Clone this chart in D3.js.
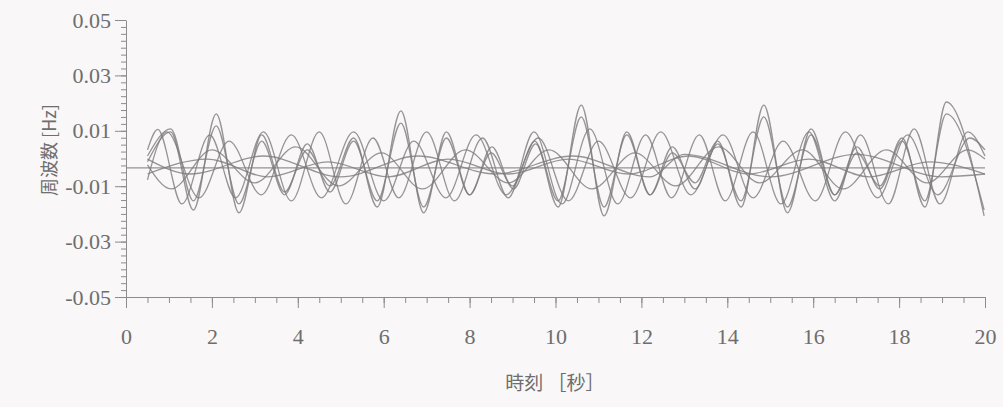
<!DOCTYPE html>
<html>
<head>
<meta charset="utf-8">
<script src="https://cdn.jsdelivr.net/npm/d3@7"></script>
<style>
  body { margin: 0; background: #f9f7f7; }
  svg { display: block; }
</style>
</head>
<body>
<script>
// tick labels
const xTicks = [0, 2, 4, 6, 8, 10, 12, 14, 16, 18, 20];
const yTicks = [-0.05, -0.03, -0.01, 0.01, 0.03, 0.05];

// series: [time (s), frequency (Hz)] at turning points
const flat = [[0, -0.0034], [20, -0.0034]];
const s1 = [[0.5,-0.0012],[1.04,0.0096],[1.57,-0.0186],[2.1,0.0161],[2.63,-0.0196],[3.16,0.0085],[3.69,-0.0121],[4.22,0.0031],[4.75,-0.0099],[5.3,0.0074],[5.85,-0.0175],[6.4,0.0172],[6.93,-0.0196],[7.46,0.0096],[8.0,-0.0131],[8.5,0.002],[9.0,-0.0099],[9.52,0.0063],[10.06,-0.0175],[10.6,0.0193],[11.13,-0.0207],[11.66,0.0096],[12.2,-0.0131],[12.72,0.002],[13.25,-0.0088],[13.78,0.0063],[14.32,-0.0175],[14.85,0.0193],[15.4,-0.0196],[15.95,0.0107],[16.5,-0.0131],[17.02,0.002],[17.55,-0.0099],[18.07,0.0074],[18.6,-0.0175],[19.1,0.0204],[19.98,-0.0207]];
const s2 = [[0.5,0.0009],[1.04,0.0107],[1.57,-0.0153],[2.1,0.0118],[2.63,-0.0164],[3.16,0.0063],[3.69,-0.0131],[4.22,0.0053],[4.75,-0.0121],[5.3,0.0063],[5.85,-0.0153],[6.4,0.0128],[6.93,-0.0175],[7.46,0.0074],[8.0,-0.0131],[8.52,0.0042],[9.02,-0.011],[9.54,0.0053],[10.06,-0.0153],[10.6,0.015],[11.13,-0.0175],[11.66,0.0085],[12.2,-0.0131],[12.72,0.0042],[13.25,-0.011],[13.78,0.0053],[14.32,-0.0153],[14.85,0.015],[15.4,-0.0175],[15.95,0.0085],[16.5,-0.0131],[17.02,0.0042],[17.55,-0.011],[18.07,0.0063],[18.6,-0.0153],[19.1,0.0161],[19.98,-0.0186]];
const s3 = [[0.5,0.0031],[0.74,0.0105],[1.3,-0.0164],[1.95,0.0085],[2.55,-0.0142],[3.2,0.0096],[3.85,-0.0153],[4.5,0.0096],[5.12,-0.0164],[5.75,0.0074],[6.35,-0.0142],[7.0,0.0096],[7.65,-0.0153],[8.3,0.0074],[8.9,-0.0142],[9.5,0.0096],[10.15,-0.0164],[10.8,0.0107],[11.45,-0.0164],[12.1,0.0085],[12.7,-0.0142],[13.35,0.0085],[13.95,-0.0153],[14.6,0.0096],[15.25,-0.0164],[15.9,0.0096],[16.5,-0.0153],[17.1,0.0085],[17.75,-0.0164],[18.35,0.0107],[18.95,-0.0164],[19.6,0.0096],[20,0.0009]];
const s4 = [[0.5,-0.0077],[0.95,0.0096],[1.7,-0.0142],[2.4,0.0063],[3.15,-0.0131],[3.85,0.0085],[4.55,-0.0142],[5.3,0.0096],[6.0,-0.0153],[6.7,0.0063],[7.45,-0.0142],[8.15,0.0085],[8.85,-0.0131],[9.6,0.0074],[10.3,-0.0153],[11.0,0.0063],[11.75,-0.0142],[12.45,0.0096],[13.15,-0.0131],[13.9,0.0085],[14.6,-0.0142],[15.3,0.0063],[16.05,-0.0153],[16.75,0.0096],[17.5,-0.0142],[18.2,0.0085],[18.9,-0.0131],[19.65,0.0074],[20,0.0031]];
const s5 = [[0.5,-0.0023],[1.05,-0.011],[2.0,0.0031],[3.0,-0.0088],[3.95,0.0042],[4.95,-0.0099],[5.95,0.002],[6.9,-0.011],[7.9,0.0031],[8.9,-0.0088],[9.85,0.0031],[10.85,-0.011],[11.85,0.002],[12.8,-0.0099],[13.8,0.0042],[14.75,-0.0088],[15.75,0.0031],[16.7,-0.011],[17.7,0.0031],[18.65,-0.0088],[19.6,0.0031],[20,-0.0002]];
const s6 = [[0.5,-0.0002],[1.5,-0.0056],[3.2,0.0009],[5.0,-0.0066],[6.8,0.0009],[8.6,-0.0056],[10.4,0.0009],[12.2,-0.0066],[13.0,0.0015],[15.0,-0.0066],[17.0,0.0015],[19.0,-0.0066],[20,-0.0056]];
const s7 = [[0.5,-0.0056],[1.9,-0.0002],[3.3,-0.0066],[4.7,-0.0012],[6.1,-0.0066],[7.5,-0.0002],[8.9,-0.0056],[10.3,-0.0002],[11.7,-0.0056],[13.1,0.0009],[14.5,-0.0056],[15.9,-0.0002],[17.3,-0.0066],[18.7,-0.0012],[20,-0.0056]];

const series = [flat, s1, s2, s3, s4, s5, s6, s7];

const width = 1003, height = 407;
const svg = d3.select('body').append('svg')
  .attr('width', width)
  .attr('height', height);

const x = d3.scaleLinear().domain([0, 20]).range([126, 985]);
const y = d3.scaleLinear().domain([-0.05, 0.05]).range([297, 20]);

const serif = '"Liberation Serif", "DejaVu Serif", serif';
const cjk = '"Noto Sans CJK JP", sans-serif';

// minor ticks
svg.append('g')
  .attr('transform', `translate(0,${y(-0.05)})`)
  .call(d3.axisBottom(x).tickValues(d3.range(0, 20.01, 0.5)).tickSize(6).tickFormat(''))
  .call(g => g.select('.domain').remove());
svg.append('g')
  .attr('transform', `translate(${x(0)},0)`)
  .call(d3.axisLeft(y).tickValues(d3.range(-0.05, 0.0501, 0.0025)).tickSize(5).tickFormat(''))
  .call(g => g.select('.domain').remove());

// major axes
svg.append('g')
  .attr('transform', `translate(0,${y(-0.05)})`)
  .call(d3.axisBottom(x).tickValues(xTicks).tickSize(11).tickPadding(20).tickSizeOuter(0));
svg.append('g')
  .attr('transform', `translate(${x(0)},0)`)
  .call(d3.axisLeft(y).tickValues(yTicks).tickSize(11).tickPadding(4).tickSizeOuter(0)
    .tickFormat(d => d.toFixed(2)));

svg.selectAll('.tick line, .domain').attr('stroke', '#8c8c8c');
svg.selectAll('.tick text')
  .attr('fill', '#6e6e6e')
  .style('font-family', serif)
  .style('font-size', '22px');

// lines
const line = d3.line()
  .x(d => x(d[0]))
  .y(d => y(d[1]))
  .curve(d3.curveMonotoneX);

svg.append('g')
  .selectAll('path')
  .data(series)
  .join('path')
  .attr('d', line)
  .attr('fill', 'none')
  .attr('stroke', '#7c7c7c')
  .attr('stroke-width', 1.3)
  .attr('stroke-opacity', 0.8);

// axis titles
svg.append('text')
  .attr('x', 555)
  .attr('y', 390)
  .attr('text-anchor', 'middle')
  .attr('fill', '#6e6e6e')
  .style('font-family', cjk)
  .style('font-size', '19px')
  .text('時刻 ［秒］');

svg.append('text')
  .attr('transform', 'translate(56,150) rotate(-90)')
  .attr('text-anchor', 'middle')
  .attr('fill', '#6e6e6e')
  .style('font-family', cjk)
  .style('font-size', '18px')
  .text('周波数  [Hz]');
</script>
</body>
</html>
